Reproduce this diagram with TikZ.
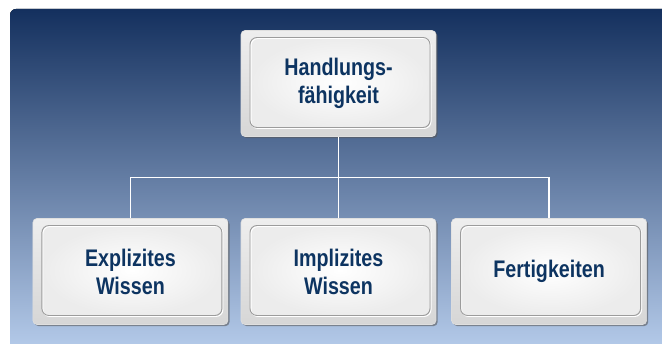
\documentclass[tikz,border=0pt]{standalone}
\usepackage{fontspec}
\newfontfamily\cardfont{Liberation Sans}[FakeStretch=0.82]
\usepackage{tikz}
\usetikzlibrary{calc,positioning,shadows}
\definecolor{bgtop}{HTML}{14305E}
\definecolor{bgmid}{HTML}{7890B6}
\definecolor{bgbot}{HTML}{B7CDEC}
\definecolor{ink}{HTML}{0D3461}
\definecolor{cardhi}{HTML}{EEEEEE}
\definecolor{cardlo}{HTML}{D6D6D6}
\definecolor{bevel}{HTML}{9C9C9C}
\tikzset{
  card/.style={rounded corners=4pt, minimum width=195pt, minimum height=106pt, inner sep=0pt,
    top color=cardhi, bottom color=cardlo, draw=gray!25, line width=0.6pt,
    drop shadow={shadow xshift=1.6pt, shadow yshift=-1.6pt, opacity=0.6, fill=black!65},
    text=ink, font=\cardfont\bfseries\fontsize{24}{28}\selectfont, align=center,
    path picture={
      \coordinate (nw) at (path picture bounding box.north west);
      \coordinate (se) at (path picture bounding box.south east);
      \path[draw=none, inner color=white, outer color=gray!15, rounded corners=7pt]
        ($(nw)+(9,-7)$) rectangle ($(se)+(-6,9)$);
      \draw[white, line width=1pt, rounded corners=7pt]
        ($(nw)+(10,-8)$) rectangle ($(se)+(-5,8)$);
      \draw[bevel, line width=0.9pt, rounded corners=7pt]
        ($(nw)+(9,-7)$) rectangle ($(se)+(-6,9)$);
    }},
  link/.style={draw=white, line width=1.3pt},
}
\begin{document}
\begin{tikzpicture}[x=1pt, y=1pt]
  \clip (0,0) rectangle (662,344);
  % backdrop
  \fill[top color=bgtop, middle color=bgmid, bottom color=bgbot, rounded corners=6pt] (10,-10) rectangle (680,335);

  \node[card] (hand) at (338.5,260.5) {Handlungs-\\fähigkeit};
  \node[card] (impl) at (338.5,72.5) {Implizites\\Wissen};
  \node[card, left=12.5pt of impl] (expl) {Explizites\\Wissen};
  \node[card, right=15pt of impl] (fert) {Fertigkeiten};

  % tree lines
  \coordinate (bus) at ($(hand.south)!0.5!(impl.north)$);
  \draw[link] (hand.south) -- (impl.north);
  \draw[link] (expl.north) |- (bus) -| (fert.north);
\end{tikzpicture}
\end{document}
